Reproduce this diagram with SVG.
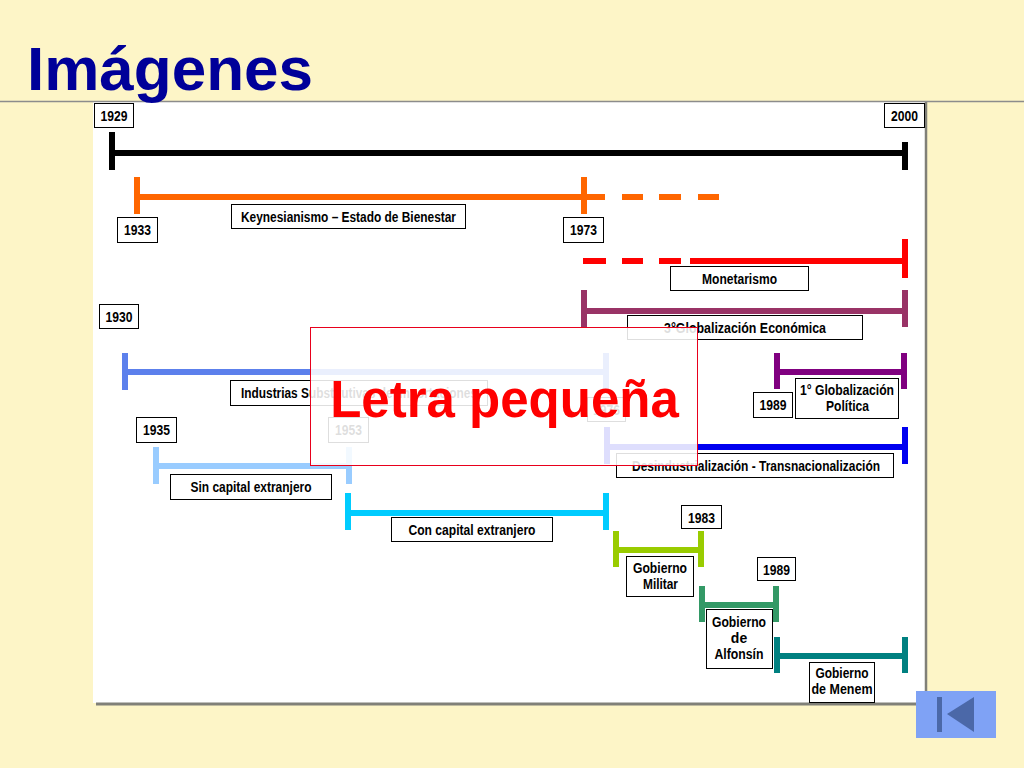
<svg xmlns="http://www.w3.org/2000/svg" width="1024" height="768" viewBox="0 0 1024 768">
<defs>
<style>
.bx{fill:#fff;stroke:#000;stroke-width:1}
.t{font-family:"Liberation Sans Narrow","Liberation Sans",Arial,sans-serif;font-weight:bold;font-size:14px;fill:#000;text-anchor:middle}
.bar{fill:none;stroke-width:6;stroke-linecap:butt}
</style>
</defs>
<rect x="0" y="0" width="1024" height="768" fill="#FDF5C7"/>
<rect x="93" y="101" width="832" height="602" fill="#fff"/>
<line x1="926" y1="101" x2="926" y2="705" stroke="#808078" stroke-width="2.5"/>
<line x1="96" y1="704" x2="927" y2="704" stroke="#808078" stroke-width="3"/>
<line x1="0" y1="101.5" x2="1024" y2="101.5" stroke="#8C8C8C" stroke-width="1.5"/>
<text x="27" y="90" font-family="'Liberation Sans',Arial,sans-serif" font-weight="bold" font-size="62" fill="#000099">Imágenes</text>

<g id="connectors">
<g id="bar-total" class="bar" stroke="#000">
<line x1="112" y1="153" x2="905" y2="153"/><line x1="112" y1="132" x2="112" y2="170"/><line x1="905" y1="142" x2="905" y2="170"/>
</g>
<g id="bar-keynes" class="bar" stroke="#FF6600">
<line x1="137" y1="197" x2="605" y2="197"/><line x1="622" y1="197" x2="643" y2="197"/><line x1="659" y1="197" x2="681" y2="197"/><line x1="698" y1="197" x2="719" y2="197"/>
<line x1="137" y1="177" x2="137" y2="214"/><line x1="584" y1="177" x2="584" y2="214"/>
</g>
<g id="bar-monetarismo" class="bar" stroke="#FF0000">
<line x1="583" y1="261" x2="606" y2="261"/><line x1="622" y1="261" x2="643" y2="261"/><line x1="659" y1="261" x2="681" y2="261"/><line x1="690" y1="261" x2="905" y2="261"/>
<line x1="905" y1="239" x2="905" y2="278"/>
</g>
<g id="bar-glob-eco" class="bar" stroke="#993366">
<line x1="584" y1="311" x2="905" y2="311"/><line x1="584" y1="290" x2="584" y2="327"/><line x1="905" y1="290" x2="905" y2="327"/>
</g>
<g id="bar-industrias" class="bar" stroke="#5C80EC">
<line x1="125" y1="372" x2="606" y2="372"/><line x1="125" y1="353" x2="125" y2="390"/><line x1="606" y1="353" x2="606" y2="390"/>
</g>
<g id="bar-glob-pol" class="bar" stroke="#800080">
<line x1="777" y1="372" x2="904" y2="372"/><line x1="777" y1="353" x2="777" y2="389"/><line x1="904" y1="353" x2="904" y2="389"/>
</g>
<g id="bar-desind" class="bar" stroke="#0000F0">
<line x1="607" y1="447" x2="905" y2="447"/><line x1="607" y1="427" x2="607" y2="464"/><line x1="905" y1="427" x2="905" y2="464"/>
</g>
<g id="bar-sin" class="bar" stroke="#99CCFF">
<line x1="156" y1="466" x2="349" y2="466"/><line x1="156" y1="447" x2="156" y2="484"/><line x1="349" y1="447" x2="349" y2="484"/>
</g>
<g id="bar-con" class="bar" stroke="#00CCFF">
<line x1="348" y1="513" x2="606" y2="513"/><line x1="348" y1="493" x2="348" y2="530"/><line x1="606" y1="493" x2="606" y2="530"/>
</g>
<g id="bar-militar" class="bar" stroke="#99CC00">
<line x1="616" y1="550" x2="701" y2="550"/><line x1="616" y1="531" x2="616" y2="567"/><line x1="701" y1="531" x2="701" y2="567"/>
</g>
<g id="bar-alfonsin" class="bar" stroke="#339966">
<line x1="702" y1="605" x2="776" y2="605"/><line x1="702" y1="586" x2="702" y2="622"/><line x1="776" y1="586" x2="776" y2="622"/>
</g>
<g id="bar-menem" class="bar" stroke="#008080">
<line x1="777" y1="656" x2="905" y2="656"/><line x1="777" y1="637" x2="777" y2="673"/><line x1="905" y1="637" x2="905" y2="673"/>
</g>
</g>

<g id="y1929"><rect class="bx" x="94.5" y="103.5" width="39" height="24"/><text class="t" x="114" y="121" textLength="27" lengthAdjust="spacingAndGlyphs">1929</text></g>
<g id="y2000"><rect class="bx" x="884.5" y="103.5" width="40" height="24"/><text class="t" x="904.5" y="121" textLength="27" lengthAdjust="spacingAndGlyphs">2000</text></g>
<g id="y1933"><rect class="bx" x="117.5" y="217.5" width="40" height="25"/><text class="t" x="137.5" y="235" textLength="27" lengthAdjust="spacingAndGlyphs">1933</text></g>
<g id="keynes"><rect class="bx" x="231.5" y="204.5" width="234" height="24"/><text class="t" x="348.5" y="222" textLength="215" lengthAdjust="spacingAndGlyphs">Keynesianismo – Estado de Bienestar</text></g>
<g id="y1973"><rect class="bx" x="563.5" y="217.5" width="40" height="25"/><text class="t" x="583.5" y="235" textLength="27" lengthAdjust="spacingAndGlyphs">1973</text></g>
<g id="monetarismo"><rect class="bx" x="670.5" y="266.5" width="138" height="24"/><text class="t" x="739.5" y="284" textLength="75" lengthAdjust="spacingAndGlyphs">Monetarismo</text></g>
<g id="glob-eco"><rect class="bx" x="627.5" y="315.5" width="235" height="24"/><text class="t" x="745" y="333" textLength="162" lengthAdjust="spacingAndGlyphs">3°Globalización Económica</text></g>
<g id="y1930"><rect class="bx" x="99.5" y="304.5" width="39" height="24"/><text class="t" x="119" y="322" textLength="27" lengthAdjust="spacingAndGlyphs">1930</text></g>
<g id="industrias"><rect class="bx" x="230.5" y="380.5" width="257" height="25"/><text class="t" x="359" y="398" textLength="236" lengthAdjust="spacingAndGlyphs">Industrias Substitutivas de Importaciones</text></g>
<g id="y1935"><rect class="bx" x="136.5" y="417.5" width="40" height="25"/><text class="t" x="156.5" y="435" textLength="27" lengthAdjust="spacingAndGlyphs">1935</text></g>
<g id="y1953"><rect class="bx" x="328.5" y="417.5" width="40" height="25"/><text class="t" x="348.5" y="435" textLength="27" lengthAdjust="spacingAndGlyphs">1953</text></g>
<g id="sin-capital"><rect class="bx" x="170.5" y="474.5" width="161" height="25"/><text class="t" x="251" y="492" textLength="121" lengthAdjust="spacingAndGlyphs">Sin capital extranjero</text></g>
<g id="con-capital"><rect class="bx" x="391.5" y="517.5" width="161" height="24"/><text class="t" x="472" y="535" textLength="127" lengthAdjust="spacingAndGlyphs">Con capital extranjero</text></g>
<g id="y1976"><rect class="bx" x="587.5" y="397.5" width="38" height="24"/><text class="t" x="606.5" y="415" textLength="27" lengthAdjust="spacingAndGlyphs">1976</text></g>
<g id="desind"><rect class="bx" x="616.5" y="453.5" width="277" height="24"/><text class="t" x="756" y="471" textLength="248" lengthAdjust="spacingAndGlyphs">Desindustrialización - Transnacionalización</text></g>
<g id="glob-pol"><rect class="bx" x="795.5" y="378.5" width="103" height="40"/><text class="t" x="847" y="395" textLength="94" lengthAdjust="spacingAndGlyphs">1° Globalización</text><text class="t" x="847.5" y="411" textLength="43" lengthAdjust="spacingAndGlyphs">Política</text></g>
<g id="y1989a"><rect class="bx" x="753.5" y="392.5" width="39" height="25"/><text class="t" x="773" y="410" textLength="27" lengthAdjust="spacingAndGlyphs">1989</text></g>
<g id="y1983"><rect class="bx" x="681.5" y="505.5" width="40" height="23"/><text class="t" x="701.5" y="522.5" textLength="27" lengthAdjust="spacingAndGlyphs">1983</text></g>
<g id="militar"><rect class="bx" x="626.5" y="556.5" width="67" height="40"/><text class="t" x="660" y="573" textLength="54" lengthAdjust="spacingAndGlyphs">Gobierno</text><text class="t" x="660.5" y="589" textLength="35" lengthAdjust="spacingAndGlyphs">Militar</text></g>
<g id="y1989b"><rect class="bx" x="757.5" y="557.5" width="38" height="23"/><text class="t" x="776.5" y="574.5" textLength="27" lengthAdjust="spacingAndGlyphs">1989</text></g>
<g id="alfonsin"><rect class="bx" x="706.5" y="609.5" width="66" height="59"/><text class="t" x="739" y="627" textLength="54" lengthAdjust="spacingAndGlyphs">Gobierno</text><text class="t" x="739" y="643">de</text><text class="t" x="739" y="659" textLength="49" lengthAdjust="spacingAndGlyphs">Alfonsín</text></g>
<g id="menem"><rect class="bx" x="809.5" y="662.5" width="65" height="40"/><text class="t" x="842" y="678" textLength="53" lengthAdjust="spacingAndGlyphs">Gobierno</text><text class="t" x="842" y="694" textLength="61" lengthAdjust="spacingAndGlyphs">de Menem</text></g>

<g id="overlay">
<rect x="310.5" y="327.5" width="387" height="138" fill="#fff" fill-opacity="0.87" stroke="#E8001C" stroke-width="1"/>
<text x="504.5" y="417" text-anchor="middle" font-family="'Liberation Sans',Arial,sans-serif" font-weight="bold" font-size="51" fill="#FF0000">Letra pequeña</text>
</g>

<g id="nav-button">
<rect x="916" y="691" width="80" height="47" fill="#7FA2F5"/>
<rect x="937" y="697" width="5" height="35" fill="#4B68A8"/>
<polygon points="947,714 974,697 974,732" fill="#4B68A8"/>
</g>
</svg>
